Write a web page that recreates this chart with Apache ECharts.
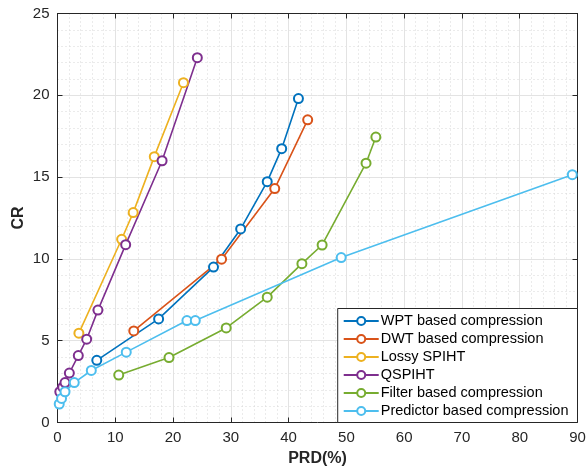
<!DOCTYPE html>
<html>
<head>
<meta charset="utf-8">
<script src="https://cdn.jsdelivr.net/npm/echarts@6/dist/echarts.min.js"></script>
<style>
html,body{margin:0;padding:0;background:#fff;}
#chart{width:587px;height:472px;}
</style>
</head>
<body>
<div id="chart"></div>
<script>
// Series data: [PRD(%), CR]
const wptData = [[6.8,3.8],[17.5,6.33],[27.0,9.5],[31.7,11.83],[36.3,14.72],[38.8,16.74],[41.7,19.8]];
const dwtData = [[13.2,5.6],[28.4,9.98],[37.6,14.3],[43.3,18.5]];
const lossySpihtData = [[3.7,5.46],[11.1,11.2],[13.1,12.83],[16.75,16.25],[21.8,20.77]];
const qspihtData = [[0.4,1.88],[0.9,2.16],[1.3,2.44],[2.05,3.02],[3.6,4.09],[5.05,5.09],[7.0,6.87],[11.8,10.87],[18.1,16.0],[24.2,22.3]];
const filterData = [[10.6,2.9],[19.3,3.97],[29.2,5.78],[36.3,7.66],[42.3,9.71],[45.8,10.85],[53.4,15.85],[55.1,17.45]];
const predictorData = [[0.3,1.13],[0.7,1.47],[1.3,1.88],[2.9,2.44],[5.85,3.18],[11.9,4.3],[22.4,6.23],[23.85,6.23],[49.1,10.08],[89.1,15.15]];

const seriesNames = ['WPT based compression','DWT based compression','Lossy SPIHT','QSPIHT','Filter based compression','Predictor based compression'];
const seriesColors = ['#0072BD','#D95319','#EDB120','#7E2F8E','#77AC30','#4DBEEE'];
const seriesData = [wptData, dwtData, lossySpihtData, qspihtData, filterData, predictorData];

const xTicks = {min:0, max:90, interval:10};
const yTicks = {min:0, max:25, interval:5};

const axisColor = '#262626';
const font = 'Liberation Sans, Arial, sans-serif';

const chart = echarts.init(document.getElementById('chart'), null, {renderer:'canvas'});

function mainAxis(t, name, pos, nameGap) {
  return {
    type:'value', position:pos, min:t.min, max:t.max, interval:t.interval,
    name:name, nameLocation:'middle', nameGap:nameGap, nameMoveOverlap:false,
    nameTextStyle:{color:axisColor, fontSize:16, fontWeight:'bold', fontFamily:font},
    axisLine:{show:true, onZero:false, lineStyle:{color:axisColor, width:1}},
    axisTick:{show:true, inside:true, length:5, lineStyle:{color:axisColor}},
    axisLabel:{color:axisColor, fontSize:15, fontFamily:font, margin:8},
    splitLine:{show:true, lineStyle:{color:'#e3e3e3', width:1}},
    minorTick:{show:false, splitNumber:5},
    minorSplitLine:{show:true, lineStyle:{color:'#d6d6d6', width:1, type:[1,3]}}
  };
}
function sideAxis(t, pos) {
  return {
    type:'value', position:pos, min:t.min, max:t.max, interval:t.interval,
    axisLine:{show:true, onZero:false, lineStyle:{color:axisColor, width:1}},
    axisTick:{show:true, inside:true, length:5, lineStyle:{color:axisColor}},
    axisLabel:{show:false}, splitLine:{show:false}
  };
}

const series = seriesNames.map((n,i)=>({
  name:n, type:'line', data:seriesData[i],
  xAxisIndex:0, yAxisIndex:0,
  symbol:'emptyCircle', symbolSize:9,
  lineStyle:{color:seriesColors[i], width:1.6},
  itemStyle:{color:seriesColors[i], borderColor:seriesColors[i], borderWidth:1.6},
  emphasis:{disabled:true}, animation:false, z:2
}));

const xGrid = mainAxis(xTicks,'PRD(%)','bottom',28);
const yGrid = mainAxis(yTicks,'CR','left',31);

chart.setOption({
  animation:false,
  backgroundColor:'#fff',
  grid:{left:57.5, right:9.5, top:13.5, bottom:49.5, containLabel:false, outerBoundsMode:'none'},
  xAxis:[xGrid, sideAxis(xTicks,'top')],
  yAxis:[yGrid, sideAxis(yTicks,'right')],
  legend:{
    data:seriesNames, orient:'vertical', right:9.5, bottom:49.5,
    backgroundColor:'#fff', borderColor:axisColor, borderWidth:1,
    padding:[5,9,4,5], itemWidth:35, itemHeight:10, itemGap:3,
    textStyle:{color:'#000', fontSize:14.5, fontFamily:font, padding:[0,0,0,-3]},
    selectedMode:false, z:10
  },
  series:series
});
</script>
</body>
</html>
